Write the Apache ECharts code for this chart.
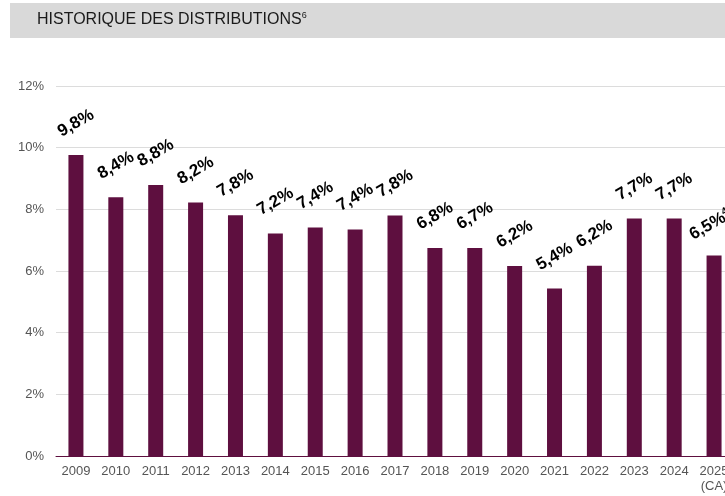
<!DOCTYPE html>
<html>
<head>
<meta charset="utf-8">
<script src="https://cdn.jsdelivr.net/npm/echarts@6/dist/echarts.min.js"></script>
<style>
  html, body { margin: 0; padding: 0; background: #fff; overflow: hidden; }
  /* un peu plus large que la fenêtre : la dernière année est coupée comme sur l'original */
  #chart { width: 734px; height: 496px; }
</style>
</head>
<body>
<div id="chart"></div>
<script>
// années
const years = ['2009', '2010', '2011', '2012', '2013', '2014', '2015', '2016', '2017',
  '2018', '2019', '2020', '2021', '2022', '2023', '2024', '2025'];
// taux de distribution (%)
const rates = [9.76, 8.39, 8.79, 8.22, 7.81, 7.22, 7.41, 7.35, 7.80,
  6.75, 6.75, 6.16, 5.43, 6.17, 7.70, 7.70, 6.50];
// étiquettes affichées au-dessus des barres
const rateLabels = ['9,8%', '8,4%', '8,8%', '8,2%', '7,8%', '7,2%', '7,4%', '7,4%', '7,8%',
  '6,8%', '6,7%', '6,2%', '5,4%', '6,2%', '7,7%', '7,7%', '6,5%'];
const yTicks = [0, 2, 4, 6, 8, 10, 12];

const chart = echarts.init(document.getElementById('chart'));
const font = '"Liberation Sans", Arial, sans-serif';
const barColor = '#5e0f3f';

const option = {
  animation: false,
  textStyle: { fontFamily: font },
  graphic: [
    {
      type: 'rect',
      shape: { x: 10, y: 3, width: 724, height: 35 },
      style: { fill: '#d9d9d9' }
    },
    {
      type: 'text',
      left: 37,
      top: 11,
      style: {
        text: '{t|HISTORIQUE DES DISTRIBUTIONS}{s|6}',
        rich: {
          t: { fontFamily: font, fontSize: 16, fill: '#1a1a1a' },
          s: { fontFamily: font, fontSize: 9, fill: '#1a1a1a', verticalAlign: 'top', padding: [0, 0, 9, 0] }
        }
      }
    }
  ],
  grid: { left: 56, right: 0, top: 86, bottom: 40 },
  xAxis: {
    type: 'category',
    data: years,
    axisTick: { show: false },
    axisLine: { lineStyle: { color: barColor, width: 1 } },
    axisLabel: {
      color: '#555',
      fontSize: 13,
      margin: 8,
      interval: 0,
      formatter: function (v) { return v === '2025' ? '2025\n(CA)' : v; },
      lineHeight: 15
    }
  },
  yAxis: {
    type: 'value',
    min: 0,
    max: 12,
    interval: 2,
    axisLine: { show: false },
    axisTick: { show: false },
    splitLine: { lineStyle: { color: '#dcdcdc', width: 1 } },
    axisLabel: {
      color: '#555',
      fontSize: 13,
      margin: 12,
      formatter: function (v) { return yTicks.indexOf(v) >= 0 ? v + '%' : ''; }
    }
  },
  series: [
    {
      type: 'bar',
      data: rates,
      barWidth: 15,
      itemStyle: { color: barColor },
      label: {
        show: true,
        position: 'top',
        distance: 22,
        rotate: 30,
        offset: [5, 0],
        color: '#000',
        fontWeight: 'bold',
        fontSize: 17,
        fontFamily: font,
        formatter: function (p) {
          if (p.dataIndex === years.length - 1) return rateLabels[p.dataIndex] + '{s|4,7}';
          return rateLabels[p.dataIndex];
        },
        rich: {
          s: { fontSize: 10, fontWeight: 'bold', color: '#000', verticalAlign: 'top', padding: [0, 0, 9, 0] }
        }
      }
    }
  ]
};

chart.setOption(option);
</script>
</body>
</html>
